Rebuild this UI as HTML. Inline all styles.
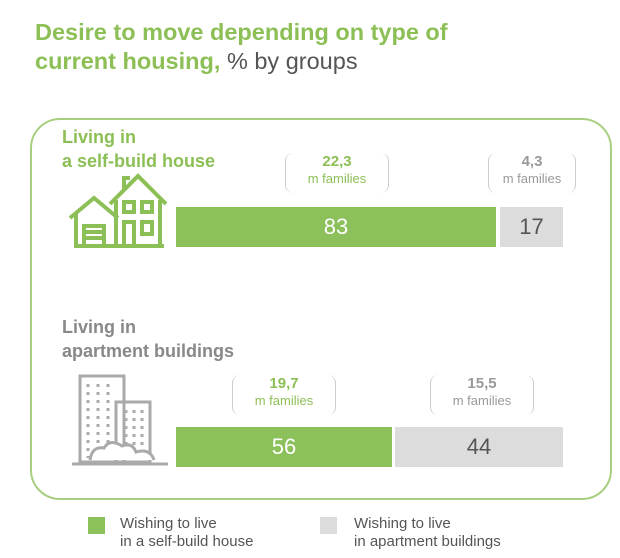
<!DOCTYPE html>
<html><head><meta charset="utf-8"><style>
body{margin:0;width:620px;height:558px;background:#fff;font-family:"Liberation Sans",sans-serif;position:relative;overflow:hidden}
.a{position:absolute}
.t{left:35px;top:18px;font-size:23.5px;font-weight:bold;color:#8cbf55;line-height:29px}
.t span{font-weight:normal;color:#555}
.box{left:30px;top:118px;width:578px;height:378px;border:2px solid #a8cf80;border-radius:30px}
.h{font-size:18px;font-weight:bold;line-height:24px}
.g{background:#8cc05a;color:#fff;font-size:22px;text-align:center}
.gr{background:#dcdcdc;color:#555;font-size:22px;text-align:center}
.br{border:1.5px solid #ccc;border-radius:8px;border-top:none;border-bottom:none;text-align:center;font-size:13px;line-height:17px}
.br b{font-size:15px}
.lg{font-size:15px;color:#555;line-height:18px}
</style></head><body>
<div class="a t">Desire to move depending on type of<br>current housing, <span>% by groups</span></div>
<div class="a box"></div>
<div class="a h" style="left:62px;top:125px;color:#8cbf55">Living in<br>a self-build house</div>
<div class="a h" style="left:62px;top:315px;color:#888">Living in<br>apartment buildings</div>
<svg class="a" style="left:66px;top:168px" width="104" height="82" viewBox="0 0 104 82" fill="none" stroke="#8cbf55" stroke-width="4">
<path d="M4 50 L28 30 L52 50"/><path d="M10 46 V78 H98"/><rect x="18" y="58" width="20" height="20"/><line x1="18" y1="64" x2="38" y2="64"/><line x1="18" y1="70" x2="38" y2="70"/>
<path d="M44 36 L72 8 L100 36"/><path d="M50 32 V78"/><path d="M94 32 V78"/><path d="M58 22 V10 H64"/>
<rect x="58" y="34" width="10" height="10"/><rect x="76" y="34" width="10" height="10"/><rect x="58" y="54" width="10" height="24"/><rect x="76" y="54" width="10" height="12"/></svg>
<svg class="a" style="left:70px;top:372px" width="100" height="98" viewBox="0 0 100 98" fill="none" stroke="#aaa" stroke-width="3">
<rect x="10" y="4" width="44" height="86"/><rect x="46" y="30" width="34" height="60"/>
<g stroke-dasharray="3 5"><line x1="18" y1="12" x2="18" y2="86"/><line x1="28" y1="12" x2="28" y2="86"/><line x1="38" y1="12" x2="38" y2="86"/><line x1="56" y1="38" x2="56" y2="86"/><line x1="64" y1="38" x2="64" y2="86"/><line x1="72" y1="38" x2="72" y2="86"/></g>
<path d="M20 88 Q22 74 34 76 Q40 66 52 74 Q62 70 66 80 Q80 76 84 88" fill="#fff"/><line x1="2" y1="92" x2="98" y2="92"/></svg>
<div class="a br" style="left:285px;top:153px;width:102px;height:40px;color:#8cbf55"><b>22,3</b><br>m families</div>
<div class="a br" style="left:488px;top:153px;width:86px;height:40px;color:#999"><b>4,3</b><br>m families</div>
<div class="a g" style="left:176px;top:207px;width:320px;height:40px;line-height:40px">83</div>
<div class="a gr" style="left:500px;top:207px;width:63px;height:40px;line-height:40px">17</div>
<div class="a br" style="left:232px;top:375px;width:102px;height:40px;color:#8cbf55"><b>19,7</b><br>m families</div>
<div class="a br" style="left:430px;top:375px;width:102px;height:40px;color:#999"><b>15,5</b><br>m families</div>
<div class="a g" style="left:176px;top:427px;width:216px;height:40px;line-height:40px">56</div>
<div class="a gr" style="left:395px;top:427px;width:168px;height:40px;line-height:40px">44</div>
<div class="a" style="left:88px;top:517px;width:17px;height:17px;background:#8cc05a"></div>
<div class="a lg" style="left:120px;top:515px">Wishing to live<br>in a self-build house</div>
<div class="a" style="left:320px;top:517px;width:17px;height:17px;background:#dcdcdc"></div>
<div class="a lg" style="left:354px;top:515px">Wishing to live<br>in apartment buildings</div>
</body></html>
